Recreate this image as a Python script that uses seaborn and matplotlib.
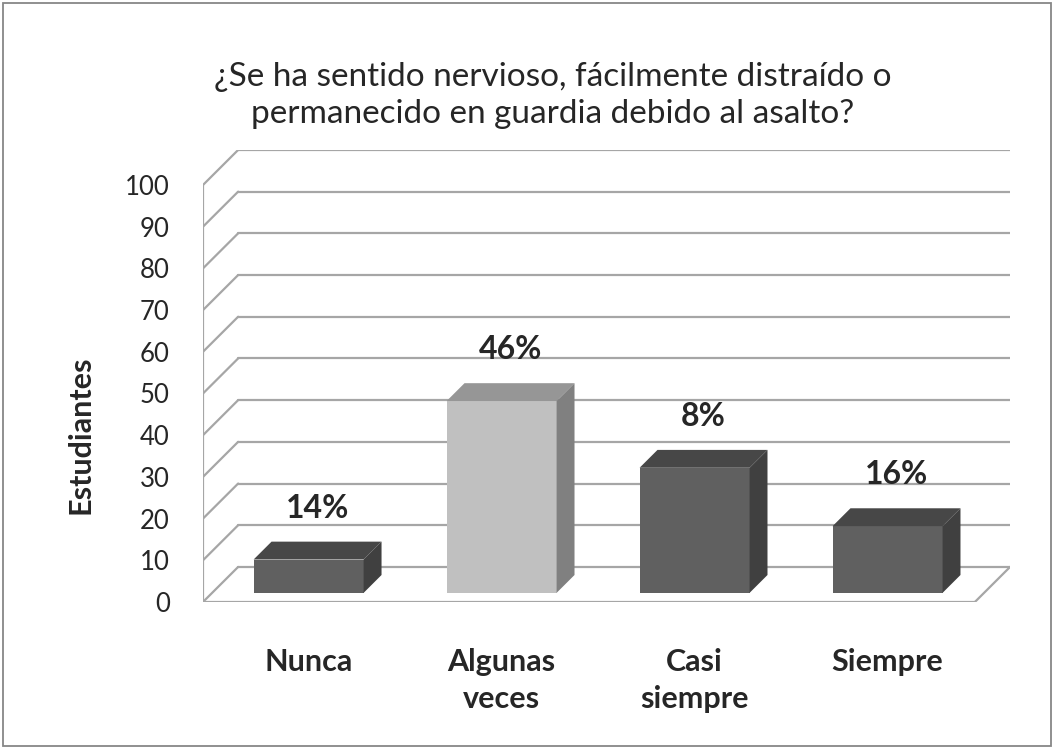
import pandas as pd
import seaborn as sns
import matplotlib.pyplot as plt
from matplotlib.patches import Polygon, Rectangle

# Data
categorias = ["Nunca", "Algunas\nveces", "Casi\nsiempre", "Siempre"]
estudiantes = [8, 46, 30, 16]
etiquetas = ["14%", "46%", "8%", "16%"]
colores = ["#606060", "#c0c0c0", "#606060", "#606060"]
colores_top = ["#474747", "#969696", "#474747", "#474747"]
colores_lado = ["#404040", "#808080", "#404040", "#404040"]
yticks = list(range(0, 101, 10))
titulo = "¿Se ha sentido nervioso, fácilmente distraído o\npermanecido en guardia debido al asalto?"

sns.set_style("white")
plt.rcParams['font.family'] = ['Lato', 'DejaVu Sans']

df = pd.DataFrame({"categoria": categorias, "estudiantes": estudiantes})

fig = plt.figure(figsize=(10.54, 7.49), dpi=100)
ax = fig.add_axes([0.1926, 0.1963, 0.7657, 0.6035])

# fake 3D depth (data units) and bar depth position
DX, DY = 0.182, 8.4
f0, d = 0.26, 0.51
grid_col = "#a6a6a6"

sns.barplot(data=df, x="categoria", y="estudiantes", hue="categoria",
            palette=colores, width=0.57, saturation=1, legend=False,
            linewidth=0, ax=ax, zorder=3)

# back wall and floor
for v in yticks:
    ax.plot([-0.5 + DX, 3.5 + DX], [v + DY, v + DY], color=grid_col, lw=1.6, zorder=1)
    ax.plot([-0.5, -0.5 + DX], [v, v + DY], color=grid_col, lw=1.6, zorder=1)
ax.plot([-0.5, -0.5], [0, 100], color=grid_col, lw=1.6, zorder=1)
ax.plot([-0.5, 3.5], [0, 0], color=grid_col, lw=1.6, zorder=2)
ax.plot([3.5, 3.5 + DX], [0, DY], color=grid_col, lw=1.6, zorder=2)

bars = sorted(ax.patches, key=lambda p: p.get_x())
for i, p in enumerate(bars):
    p.set_x(p.get_x() + f0 * DX)
    p.set_y(f0 * DY)
    x0, x1 = p.get_x(), p.get_x() + p.get_width()
    y0, top = p.get_y(), p.get_y() + p.get_height()
    ax.add_patch(Polygon([(x0, top), (x1, top), (x1 + d * DX, top + d * DY),
                          (x0 + d * DX, top + d * DY)], closed=True,
                         facecolor=colores_top[i], edgecolor="none", zorder=3))
    ax.add_patch(Polygon([(x1, y0), (x1 + d * DX, y0 + d * DY),
                          (x1 + d * DX, top + d * DY), (x1, top)], closed=True,
                         facecolor=colores_lado[i], edgecolor="none", zorder=3))
    ax.text((x0 + x1) / 2 + d * DX / 2, top + d * DY + 8.0, etiquetas[i],
            ha="center", va="center", fontsize=23, fontweight="bold", zorder=4)

ax.set_xlim(-0.5, 3.5 + DX)
ax.set_ylim(0, 100 + DY)
ax.set_yticks(yticks)
ax.set_yticklabels([str(v) for v in yticks], fontsize=18.5)
ax.set_xticks([i + f0 * DX for i in range(len(categorias))])
ax.set_xticklabels(categorias, fontsize=22, fontweight="bold", linespacing=1.4)
ax.tick_params(axis="y", length=0, pad=24)
ax.tick_params(axis="x", length=0, pad=33)
ax.set_xlabel("")
ax.set_ylabel("Estudiantes", fontsize=22, fontweight="bold")
ax.yaxis.set_label_coords(-0.134, 0.37)
for s in ax.spines.values():
    s.set_visible(False)
ax.grid(False)

fig.text(0.524, 0.873, titulo, ha="center", va="center", fontsize=24,
         linespacing=1.3)
fig.add_artist(Rectangle((0.003, 0.004), 0.994, 0.992, transform=fig.transFigure,
                         fill=False, edgecolor="#878787", lw=1.3))

fig.savefig("out.png", dpi=100)
